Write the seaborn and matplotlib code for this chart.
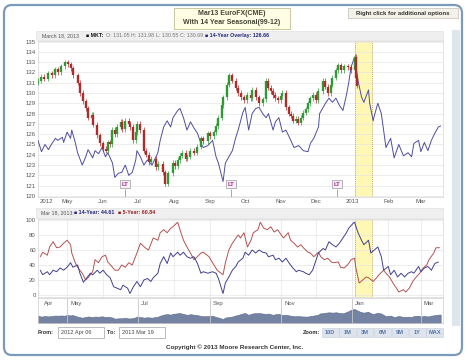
import numpy as np
import pandas as pd
import matplotlib
matplotlib.use("Agg")
import matplotlib.pyplot as plt
import matplotlib.dates as mdates
from matplotlib.patches import FancyBboxPatch, Rectangle
import seaborn as sns

# ---- data ----
start = pd.Timestamp("2012-04-06")

# candlesticks: day offset from start, close
candle_day = [0, 3, 5, 9, 12, 15, 17, 20, 23, 26,
              28, 30, 34, 36, 39, 41, 43, 46, 47, 51,
              53, 56, 58, 60, 62, 64, 66, 68, 71, 72,
              75, 78, 79, 82, 84, 85, 88, 91, 93, 95,
              97, 101, 103, 107, 109, 112, 116, 118, 120, 122,
              124, 127, 128, 131, 134, 137, 140, 142, 146, 148,
              151, 153, 155, 158, 159, 162, 164, 167, 170, 172,
              174, 177, 180, 183, 184, 187, 190, 193, 196, 198,
              200, 202, 204, 206, 209, 210, 213, 216, 217, 219,
              222, 223, 226, 228, 230, 232, 234, 236, 239, 241,
              245, 247, 249, 252, 253, 256, 258, 260, 263, 266,
              269, 272, 273, 274]
candle_close = [131.2, 131.6, 131.4, 131.9, 131.7, 132.3, 132.0, 132.6, 133.0, 132.8,
                132.4, 131.7, 131.0, 130.0, 129.2, 128.5, 127.6, 127.9, 126.9, 125.9,
                125.1, 124.6, 124.4, 125.2, 125.0, 126.4, 126.0, 126.7, 127.2, 126.5,
                127.3, 127.0, 126.7, 125.4, 126.2, 127.0, 126.4, 124.4, 124.0, 123.3,
                123.6, 122.8, 123.1, 122.3, 121.2, 122.2, 123.2, 122.9, 123.5, 123.9,
                124.2, 123.6, 123.8, 124.4, 124.2, 124.8, 125.6, 125.3, 126.1, 125.8,
                126.2, 126.8, 127.6, 128.8, 129.6, 130.8, 131.7, 131.2, 130.5, 130.0,
                129.6, 129.3, 129.8, 129.5, 130.3, 129.6, 129.0, 129.4, 131.2, 130.5,
                130.2, 129.8, 129.5, 129.3, 129.7, 130.0, 128.6, 128.0, 127.8, 127.3,
                127.5, 127.1, 127.6, 128.1, 128.4, 129.0, 129.5, 129.8, 129.3, 130.2,
                131.2, 130.6, 130.0, 130.8, 131.5, 132.2, 132.7, 132.2, 132.6, 132.5,
                132.2, 133.5, 131.5, 130.7]
first_open = 131.0

# 14-year seasonal overlay (top panel)
overlay_day = [0, 3, 6, 9, 12, 15, 17, 21, 22, 25,
               28, 29, 32, 34, 38, 41, 43, 47, 49, 52,
               55, 58, 60, 64, 66, 69, 72, 75, 78, 81,
               84, 85, 88, 91, 94, 98, 103, 105, 108, 111,
               114, 116, 120, 122, 125, 128, 131, 134, 137, 140,
               142, 146, 150, 153, 155, 159, 161, 164, 167, 170,
               172, 176, 178, 181, 184, 187, 190, 193, 196, 198,
               202, 204, 207, 210, 213, 216, 220, 224, 228, 232,
               234, 237, 241, 242, 245, 247, 250, 253, 256, 259,
               262, 265, 267, 269, 272, 275, 278, 280, 284, 285,
               288, 289, 292, 295, 299, 303, 306, 310, 314, 318,
               321, 323, 327, 329, 332, 335, 338, 341, 344, 346]
overlay_val = [125.4, 124.3, 125.0, 124.5, 125.1, 125.6, 125.4, 125.7, 125.2, 126.2,
               125.6, 126.4, 125.2, 124.2, 123.0, 123.8, 124.5, 123.7, 124.4, 124.1,
               124.7, 123.8, 124.2, 123.2, 121.8, 122.2, 122.3, 123.0, 122.0, 122.3,
               123.5, 124.4, 123.8, 123.0, 123.5, 123.0, 124.2, 125.4, 126.7, 127.3,
               126.7, 127.6, 128.3, 128.5, 127.6, 126.4, 127.2, 126.6, 126.1, 125.1,
               124.7, 124.9, 125.4, 123.8, 123.2, 121.4, 123.2, 123.8, 124.4, 125.7,
               126.4, 128.1, 128.6, 126.4, 128.0, 128.5, 128.6, 128.0, 127.6, 128.0,
               126.4, 127.2, 127.6, 126.2, 126.4, 125.7, 124.7, 124.9, 124.4, 124.3,
               125.1, 125.6, 126.7, 128.0, 128.6, 129.0, 129.5, 129.1, 129.5, 128.8,
               128.3, 129.8, 131.0, 132.5, 133.5, 131.2, 129.6, 129.1, 130.3, 129.0,
               127.3, 127.8, 129.0, 128.0, 124.7, 125.6, 123.7, 125.0, 123.9, 124.2,
               123.8, 125.1, 125.4, 124.3, 125.2, 124.4, 125.4, 126.1, 126.7, 126.8]

# lower panel: 14-year and 5-year seasonal index
y14_day = [2, 4, 8, 10, 13, 16, 19, 22, 25, 28,
           30, 34, 36, 39, 42, 45, 47, 51, 53, 56,
           59, 62, 65, 68, 71, 73, 77, 79, 82, 85,
           88, 91, 94, 97, 99, 103, 105, 108, 111, 114,
           116, 120, 122, 125, 128, 131, 134, 137, 140, 142,
           146, 150, 153, 155, 159, 161, 164, 167, 170, 172,
           176, 178, 181, 184, 187, 190, 193, 196, 198, 202,
           204, 207, 210, 213, 216, 219, 222, 224, 228, 230,
           233, 236, 239, 241, 245, 247, 250, 253, 256, 259,
           262, 265, 267, 271, 272, 275, 278, 280, 284, 286,
           289, 292, 295, 297, 301, 303, 306, 309, 312, 315,
           318, 321, 323, 327, 329, 332, 335, 338, 341, 344]
y14_val = [33, 27, 31, 27, 33, 31, 36, 33, 37, 43,
           37, 40, 29, 17, 23, 29, 27, 33, 29, 33,
           27, 23, 11, 9, 7, 13, 9, 2, 11, 18,
           11, 20, 22, 18, 23, 29, 42, 51, 42, 56,
           51, 57, 53, 57, 51, 49, 51, 42, 29, 31,
           29, 31, 29, 22, 2, 16, 24, 33, 38, 44,
           49, 57, 53, 60, 56, 60, 57, 56, 51, 53,
           47, 49, 44, 49, 42, 36, 31, 33, 31, 29,
           27, 33, 47, 56, 62, 60, 71, 67, 64, 69,
           76, 83, 89, 96, 97, 83, 73, 67, 73, 56,
           60, 64, 51, 33, 38, 27, 33, 24, 29, 24,
           29, 31, 29, 38, 31, 36, 38, 33, 42, 44]
y5_day = [2, 4, 8, 10, 13, 16, 19, 22, 25, 28,
          29, 32, 34, 38, 41, 43, 47, 49, 52, 55,
          58, 60, 64, 66, 69, 72, 75, 78, 81, 85,
          88, 92, 95, 99, 103, 105, 108, 111, 114, 116,
          120, 122, 125, 128, 131, 134, 137, 140, 142, 147,
          150, 154, 159, 161, 164, 167, 172, 174, 177, 180,
          183, 185, 189, 191, 194, 197, 200, 203, 206, 209,
          211, 215, 217, 220, 223, 226, 228, 232, 234, 237,
          241, 243, 246, 249, 252, 254, 258, 260, 263, 266,
          269, 272, 273, 276, 279, 282, 284, 288, 291, 293,
          297, 299, 302, 305, 308, 310, 314, 316, 319, 322,
          325, 328, 331, 334, 336, 340, 342, 345]
y5_val = [51, 57, 53, 64, 71, 63, 64, 69, 73, 67,
          56, 43, 37, 29, 20, 23, 31, 47, 43, 51,
          53, 44, 37, 33, 33, 40, 37, 43, 40, 56,
          69, 63, 60, 76, 73, 83, 87, 83, 89, 91,
          97, 87, 73, 64, 56, 47, 51, 56, 57, 51,
          43, 33, 27, 43, 60, 69, 80, 76, 83, 64,
          73, 83, 87, 97, 89, 87, 91, 84, 87, 80,
          76, 83, 73, 69, 64, 67, 63, 57, 56, 51,
          57, 51, 47, 49, 44, 43, 44, 37, 36, 40,
          47, 49, 37, 16, 20, 24, 23, 18, 23, 27,
          33, 29, 24, 16, 9, 4, 7, 4, 9, 18,
          24, 29, 36, 40, 47, 56, 63, 63]

band = ("2013-01-03", "2013-01-18")
lt_dates = ["2012-06-20", "2012-09-19", "2012-12-19"]
xrange_ = ("2012-04-06", "2013-03-20")
month_ticks = ["2012-05-01", "2012-06-01", "2012-07-01", "2012-08-01", "2012-09-01",
               "2012-10-01", "2012-11-01", "2012-12-01", "2013-01-01", "2013-02-01",
               "2013-03-01"]
top_tick_pos = ["2012-04-13"] + month_ticks
top_tick_lab = ["2012", "May", "Jun", "Jul", "Aug", "Sep", "Oct", "Nov", "Dec",
                "2013", "Feb", "Mar"]
nav_tick_pos = ["2012-04-09", "2012-05-01", "2012-07-01", "2012-09-01",
                "2012-11-01", "2013-01-01", "2013-03-01"]
nav_tick_lab = ["Apr", "May", "Jul", "Sep", "Nov", "Jan", "Mar"]
zoom_buttons = ["10D", "1M", "3M", "6M", "9M", "1Y", "MAX"]


def to_dates(days):
    return start + pd.to_timedelta(days, unit="D")


candle_dates = mdates.date2num(to_dates(candle_day))
candle_open = [first_open] + candle_close[:-1]
overlay = pd.DataFrame({"date": to_dates(overlay_day), "val": overlay_val})
s14 = pd.DataFrame({"date": to_dates(y14_day), "val": y14_val})
s5 = pd.DataFrame({"date": to_dates(y5_day), "val": y5_val})

sns.set_style("white")
plt.rcParams["font.family"] = ["Liberation Sans", "DejaVu Sans"]

W, H = 468, 360
fig = plt.figure(figsize=(4.68, 3.6), dpi=100)


def box(l, t, w, h):
    return [l / W, 1 - (t + h) / H, w / W, h / H]


# background layer in pixel coords
bg = fig.add_axes([0, 0, 1, 1], zorder=0)
bg.set_xlim(0, W)
bg.set_ylim(H, 0)
bg.axis("off")
bg.add_patch(FancyBboxPatch((4, 5), 458, 350, boxstyle="round,pad=0,rounding_size=8",
                            fc="white", ec="#7c9bb8", lw=1.6))
bg.add_patch(Rectangle((452, 30), 8, 296, fc="#dfe5ec", ec="none"))
bg.add_patch(Rectangle((36, 31), 407, 9, fc="#efefef", ec="#e2e2e2", lw=0.5))
bg.add_patch(Rectangle((36, 208), 407, 10, fc="#efefef", ec="#e2e2e2", lw=0.5))

# title boxes
bg.add_patch(Rectangle((174, 8), 116, 21, fc="#fffde4", ec="#c9c79e", lw=0.7))
bg.text(232, 13.5, "Mar13 EuroFX(CME)", ha="center", va="center", fontsize=5,
        fontweight="bold", color="#444433")
bg.text(232, 23, "With 14 Year Seasonal(99-12)", ha="center", va="center", fontsize=5,
        fontweight="bold", color="#444433")
bg.add_patch(Rectangle((348, 8), 110, 10, fc="#f4f2e8", ec="#c8c8c0", lw=0.6))
bg.text(403, 13, "Right click for additional options", ha="center", va="center",
        fontsize=4.3, fontweight="bold", color="#333333")

# header legend strips
fs = 3.8
bg.text(42, 35.5, "March 18, 2013", fontsize=fs, va="center", color="#555555")
bg.text(86, 35.5, "\u25a0 MKT:", fontsize=fs, va="center", color="#111111", fontweight="bold")
bg.text(106, 35.5, "O: 131.05", fontsize=fs, va="center", color="#777777")
bg.text(131, 35.5, "H: 131.98", fontsize=fs, va="center", color="#777777")
bg.text(156, 35.5, "L: 130.55", fontsize=fs, va="center", color="#777777")
bg.text(180, 35.5, "C: 130.69", fontsize=fs, va="center", color="#777777")
bg.text(205, 35.5, "\u25a0 14-Year Overlay: 126.66", fontsize=fs, va="center",
        color="#23237a", fontweight="bold")
bg.text(41, 213, "Mar 18, 2013:", fontsize=fs, va="center", color="#555555")
bg.text(74, 213, "\u25a0 14-Year: 44.61", fontsize=fs, va="center", color="#23237a",
        fontweight="bold")
bg.text(118, 213, "\u25a0 5-Year: 60.84", fontsize=fs, va="center", color="#9a2020",
        fontweight="bold")

# From / To / Zoom controls
fs2 = 4.1
bg.text(38, 332.5, "From:", fontsize=fs2, va="center", color="#333333", fontweight="bold")
bg.add_patch(Rectangle((58, 327), 46, 11, fc="white", ec="#b0b0b0", lw=0.6))
bg.text(61, 332.5, "2012 Apr 06", fontsize=fs2, va="center", color="#444444")
bg.text(107, 332.5, "To:", fontsize=fs2, va="center", color="#333333", fontweight="bold")
bg.add_patch(Rectangle((119, 327), 46, 11, fc="white", ec="#b0b0b0", lw=0.6))
bg.text(122, 332.5, "2013 Mar 19", fontsize=fs2, va="center", color="#444444")
bg.text(320, 332.5, "Zoom:", fontsize=fs2, va="center", ha="right", color="#333333",
        fontweight="bold")
bw = 17.4
for i, lab in enumerate(zoom_buttons):
    x0 = 322 + i * bw
    bg.add_patch(Rectangle((x0, 328), bw - 0.8, 9, fc="#dde4ed", ec="#c4ccd6", lw=0.4))
    bg.text(x0 + bw / 2 - 0.4, 332.6, lab, fontsize=fs2, ha="center", va="center",
            color="#5a76a6", fontweight="bold")
bg.text(235, 347, "Copyright \u00a9 2013 Moore Research Center, Inc.", fontsize=4.5,
        ha="center", va="center", color="#333333", fontweight="bold")

xlim = mdates.date2num(pd.to_datetime(list(xrange_)))
band_d = mdates.date2num(pd.to_datetime(list(band)))
minor = mdates.date2num(pd.to_datetime(month_ticks))
grid_c = "#e6e6e6"


def style_axes(a):
    a.set_facecolor("white")
    for sp in a.spines.values():
        sp.set_color("#d6d6d6")
        sp.set_linewidth(0.5)
    a.set_xlim(*xlim)
    a.set_xticks(minor, minor=True)
    a.grid(axis="y", color=grid_c, lw=0.5)
    a.grid(axis="x", which="minor", color=grid_c, lw=0.5)
    a.tick_params(which="both", length=0, labelsize=4.3, labelcolor="#555555", pad=1.5)
    a.axvspan(band_d[0], band_d[1], color="#fff8b4", zorder=0.5, lw=0)
    for bx in band_d:
        a.axvline(bx, color="#c9ab45", lw=0.7, ls=(0, (1, 1)), zorder=0.6)


# ---- top panel: candles + 14-year overlay ----
ax = fig.add_axes(box(38, 41, 405, 156), zorder=2)
style_axes(ax)
ax.set_ylim(119.9, 135.05)
ax.set_yticks(range(120, 136))
sns.lineplot(data=overlay, x="date", y="val", ax=ax, color="#4e4e9e", lw=0.7,
             estimator=None, zorder=3)
lo = np.minimum(candle_open, candle_close)
hi = np.maximum(candle_open, candle_close)
cols = ["#2e9a35" if c >= o else "#b02a2a" for o, c in zip(candle_open, candle_close)]
ax.vlines(candle_dates, lo - 0.25, hi + 0.25, colors=cols, lw=0.5, zorder=4)
ax.vlines(candle_dates, lo, np.maximum(hi, lo + 0.12), colors=cols, lw=1.7, zorder=4)
ax.set_xticks(mdates.date2num(pd.to_datetime(top_tick_pos)))
ax.set_xticklabels(top_tick_lab)
ax.set_xlabel("")
ax.set_ylabel("")
lt_x = mdates.date2num(pd.to_datetime(lt_dates))
ax.vlines(lt_x, 119.9, 120.7, color="#9a9a9a", lw=0.6, zorder=5)
for x in lt_x:
    ax.text(x, 121.15, "LT", ha="center", va="center", fontsize=4.3, fontweight="bold",
            color="#a3308f", zorder=6,
            bbox=dict(boxstyle="square,pad=0.3", fc="#fbf0f7", ec="#9a9a9a", lw=0.5))

# ---- lower panel: seasonal indices ----
ax2 = fig.add_axes(box(38, 219, 405, 78), zorder=2)
style_axes(ax2)
ax2.set_ylim(-2.7, 101.3)
ax2.set_yticks(range(0, 101, 20))
sns.lineplot(data=s5, x="date", y="val", ax=ax2, color="#b45252", lw=0.7,
             estimator=None, zorder=3)
sns.lineplot(data=s14, x="date", y="val", ax=ax2, color="#40408e", lw=0.7,
             estimator=None, zorder=3)
ax2.set_xticks([])
ax2.set_xlabel("")
ax2.set_ylabel("")

# ---- navigator ----
ax3 = fig.add_axes(box(38, 298, 405, 25), zorder=2)
ax3.set_facecolor("white")
for sp in ax3.spines.values():
    sp.set_color("#cfcfcf")
    sp.set_linewidth(0.5)
base = 116.56
ax3.fill_between(overlay["date"], base, overlay["val"], color="#7583a2", lw=0.4,
                 edgecolor="#5b698c")
ax3.set_ylim(base, 146.8)
ax3.set_xlim(*xlim)
ax3.set_xticks([])
ax3.set_yticks([])
nav_x = mdates.date2num(pd.to_datetime(nav_tick_pos))
ax3.vlines(nav_x[1:], base, 146.8, color="#c8c8c8", lw=0.6)
for x, lab in zip(nav_x, nav_tick_lab):
    ax3.text(x + 2.5, 143.5, lab, fontsize=4.3, color="#555555", va="top", ha="left")

fig.savefig("out.png", dpi=100)
